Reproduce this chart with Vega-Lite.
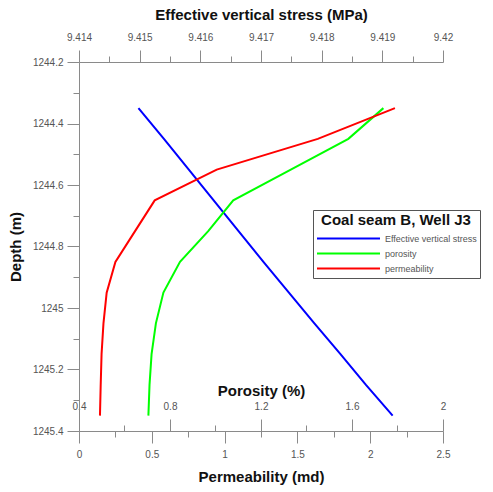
{
  "$schema": "https://vega.github.io/schema/vega-lite/v6.json",
  "width": 364,
  "height": 369,
  "autosize": {"type": "none"},
  "padding": {"left": 79, "top": 62, "right": 50, "bottom": 61},
  "background": "white",
  "config": {
    "view": {"stroke": null},
    "font": "Liberation Sans",
    "axis": {
      "grid": false,
      "domainColor": "#8a8a8a",
      "tickColor": "#8a8a8a",
      "labelColor": "#555555",
      "labelFont": "Liberation Sans",
      "labelFontSize": 10,
      "titleFont": "Liberation Sans",
      "titleFontSize": 15,
      "titleFontWeight": "bold",
      "titleColor": "#111111"
    }
  },
  "data": {
    "values": [
      {"depth": 1244.35, "stress": 9.41498, "porosity": 1.738, "permeability": 2.17},
      {"depth": 1244.45, "stress": 9.4154, "porosity": 1.584, "permeability": 1.64},
      {"depth": 1244.55, "stress": 9.41581, "porosity": 1.331, "permeability": 0.946},
      {"depth": 1244.65, "stress": 9.41622, "porosity": 1.078, "permeability": 0.52},
      {"depth": 1244.75, "stress": 9.41663, "porosity": 0.968, "permeability": 0.385},
      {"depth": 1244.85, "stress": 9.41704, "porosity": 0.844, "permeability": 0.25},
      {"depth": 1244.95, "stress": 9.41746, "porosity": 0.771, "permeability": 0.19},
      {"depth": 1245.05, "stress": 9.41788, "porosity": 0.738, "permeability": 0.168},
      {"depth": 1245.15, "stress": 9.41831, "porosity": 0.719, "permeability": 0.155},
      {"depth": 1245.25, "stress": 9.41873, "porosity": 0.71, "permeability": 0.149},
      {"depth": 1245.35, "stress": 9.41917, "porosity": 0.705, "permeability": 0.144}
    ]
  },
  "encoding": {
    "y": {
      "field": "depth",
      "type": "quantitative",
      "scale": {"domain": [1244.2, 1245.4], "reverse": true, "nice": false, "zero": false},
      "axis": {
        "title": "Depth (m)",
        "values": [1244.2, 1244.3, 1244.4, 1244.5, 1244.6, 1244.7, 1244.8, 1244.9, 1245, 1245.1, 1245.2, 1245.3, 1245.4],
        "labelExpr": "abs(datum.value*5 - round(datum.value*5)) < 0.01 ? toString(round(datum.value*10)/10) : ''",
        "tickSize": {"condition": {"test": "abs(datum.value*5 - round(datum.value*5)) < 0.01", "value": 12}, "value": 6},
        "labelPadding": 4,
        "titlePadding": 9
      }
    }
  },
  "layer": [
    {
      "mark": {"type": "line", "strokeWidth": 2},
      "encoding": {
        "x": {
          "field": "stress",
          "type": "quantitative",
          "scale": {"domain": [9.414, 9.42], "nice": false, "zero": false},
          "axis": {
            "orient": "top",
            "title": "Effective vertical stress (MPa)",
            "values": [9.414, 9.4145, 9.415, 9.4155, 9.416, 9.4165, 9.417, 9.4175, 9.418, 9.4185, 9.419, 9.4195, 9.42],
            "labelExpr": "abs(datum.value*1000 - round(datum.value*1000)) < 0.01 ? toString(round(datum.value*1000)/1000) : ''",
            "tickSize": {"condition": {"test": "abs(datum.value*1000 - round(datum.value*1000)) < 0.01", "value": 12}, "value": 6},
            "labelFlush": false,
            "labelPadding": 8,
            "titlePadding": 10
          }
        },
        "color": {
          "datum": "Effective vertical stress",
          "type": "nominal",
          "scale": {
            "domain": ["Effective vertical stress", "porosity", "permeability"],
            "range": ["#0000ff", "#00ff00", "#ff0000"]
          },
          "legend": {
            "title": "Coal seam B, Well J3",
            "orient": "none",
            "legendX": 234,
            "legendY": 148,
            "strokeColor": "#555555",
            "fillColor": "white",
            "padding": 3,
            "titleFont": "Liberation Sans",
            "titleFontSize": 15,
            "titleFontWeight": "bold",
            "titleColor": "#111111",
            "titleAnchor": "middle",
            "titlePadding": 4,
            "labelFont": "Liberation Sans",
            "labelFontSize": 9,
            "labelColor": "#555555",
            "symbolType": "stroke",
            "symbolStrokeWidth": 2,
            "symbolSize": 3969,
            "clipHeight": 13,
            "rowPadding": 2,
            "labelOffset": 4
          }
        }
      }
    },
    {
      "mark": {"type": "line", "strokeWidth": 2},
      "encoding": {
        "x": {
          "field": "porosity",
          "type": "quantitative",
          "scale": {"domain": [0.4, 2.0], "nice": false, "zero": false},
          "axis": {
            "orient": "top",
            "offset": -369,
            "domain": false,
            "title": "Porosity (%)",
            "values": [0.4, 0.6, 0.8, 1.0, 1.2, 1.4, 1.6, 1.8, 2.0],
            "labelExpr": "abs(datum.value*2.5 - round(datum.value*2.5)) < 0.01 ? toString(round(datum.value*10)/10) : ''",
            "tickSize": {"condition": {"test": "abs(datum.value*2.5 - round(datum.value*2.5)) < 0.01", "value": 12}, "value": 6},
            "labelFlush": false,
            "labelPadding": 8,
            "titlePadding": 3
          }
        },
        "color": {"datum": "porosity", "type": "nominal"}
      }
    },
    {
      "mark": {"type": "line", "strokeWidth": 2},
      "encoding": {
        "x": {
          "field": "permeability",
          "type": "quantitative",
          "scale": {"domain": [0, 2.5], "nice": false, "zero": false},
          "axis": {
            "orient": "bottom",
            "title": "Permeability (md)",
            "values": [0, 0.25, 0.5, 0.75, 1, 1.25, 1.5, 1.75, 2, 2.25, 2.5],
            "labelExpr": "abs(datum.value*2 - round(datum.value*2)) < 0.01 ? toString(round(datum.value*10)/10) : ''",
            "tickSize": {"condition": {"test": "abs(datum.value*2 - round(datum.value*2)) < 0.01", "value": 12}, "value": 6},
            "labelFlush": false,
            "labelPadding": 6,
            "titlePadding": 10
          }
        },
        "color": {"datum": "permeability", "type": "nominal"}
      }
    }
  ],
  "resolve": {"scale": {"x": "independent"}}
}
